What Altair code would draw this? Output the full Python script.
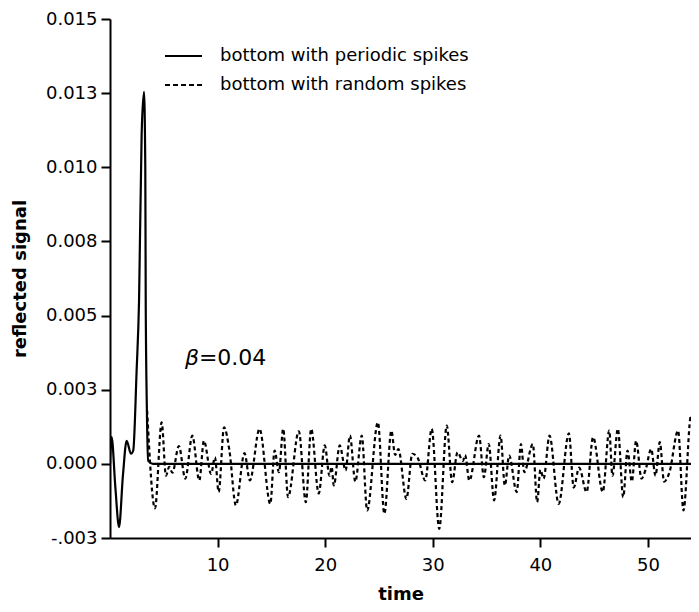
import altair as alt
import pandas as pd

# ---- data ----
periodic_t = [0, 0.15, 0.5, 0.84, 1.2, 1.55, 1.95, 2.16, 2.47, 2.7, 2.94, 3.16, 3.28, 3.32, 3.42, 3.55, 4.0, 55.0]
periodic_v = [0, 0.0009, -0.0008, -0.00213, -0.0004, 0.00078, 0.00034, 0.00045, 0.0031, 0.0055, 0.0111, 0.01254, 0.010, 0.0055, 0.002, 0.0001, 0.0, 0.0]

random_t = [3.45, 4.18, 4.8, 5.2, 5.5, 5.8, 6.4, 7.0, 7.65, 8.3, 8.73, 9.4, 9.75, 10.1, 10.6, 11.1, 11.7,
            12.5, 13.0, 13.9, 14.9, 15.3, 15.7, 16.1, 16.55, 17.55, 18.2, 18.7, 19.4, 19.96, 20.4, 20.6,
            20.8, 21.35, 21.9, 22.3, 22.8, 23.4, 23.9, 24.9, 25.5, 26.15, 26.5, 26.8, 27.55, 28.1, 28.6,
            29.3, 29.9, 30.6, 31.3, 31.8, 32.3, 32.8, 33.0, 33.4, 34.3, 34.75, 35.2, 35.7, 36.3, 36.7,
            37.1, 37.8, 38.2, 38.5, 39.3, 39.7, 40.0, 40.3, 40.85, 41.7, 42.65, 43.1, 43.6, 44.3, 44.9,
            45.8, 46.4, 46.7, 47.2, 47.7, 48.1, 48.5, 48.9, 49.4, 49.8, 50.3, 50.7, 51.1, 51.5, 52.0,
            52.8, 53.3, 54.0, 54.5, 54.9]
random_v = [0.0018, -0.0015, 0.0014, -0.0004, -0.0001, -0.0003, 0.0006, -0.0005, 0.00095, -0.00056,
            0.00078, -0.00034, 0.00022, -0.00095, 0.00123, 0.00045, -0.0014, 0.00036, -0.00056, 0.00118,
            -0.00135, 0.00045, -0.00028, 0.00118, -0.00112, 0.0011, -0.00129, 0.00118, -0.001, 0.00062,
            -0.0004, -0.0001, -0.00073, 0.00062, -0.00022, 0.00095, -0.0006, 0.00095, -0.00157, 0.0014,
            -0.00168, 0.00112, 0.0003, 0.0005, -0.00118, 0.00034, 0.0002, -0.00056, 0.00118, -0.00219,
            0.00129, -0.00062, 0.00039, 0.0001, 0.0003, -0.00056, 0.00095, -0.00045, 0.00067, -0.00123,
            0.00095, -0.00073, 0.00028, -0.00095, 0.00067, -0.00028, 0.00067, -0.00129, -0.0002, -0.0005,
            0.00095, -0.00135, 0.00103, -0.0008, -0.00013, -0.00095, 0.0009, -0.00095, 0.00112, -0.0004,
            0.00118, -0.00112, 0.00045, -0.0006, 0.00078, -0.0005, -0.00017, 0.0005, -0.0004, 0.00073,
            -0.0006, -0.00028, 0.00112, -0.00157, 0.00163, -0.00107, -0.0002]

ytick_values = [-0.0025, 0.0, 0.0025, 0.005, 0.0075, 0.01, 0.0125, 0.015]
ytick_labels = ["-.003", "0.000", "0.003", "0.005", "0.008", "0.010", "0.013", "0.015"]
xtick_values = [10, 20, 30, 40, 50]

legend_labels = ["bottom with periodic spikes", "bottom with random spikes"]
beta_t, beta_v = 6.96, 0.00358

FONT = "DejaVu Sans"

df_p = pd.DataFrame({"t": periodic_t, "v": periodic_v})
df_r = pd.DataFrame({"t": random_t, "v": random_v})

label_expr = "[" + ",".join(f"'{s}'" for s in ytick_labels) + "][round(datum.value / 0.0025) + 1]"

x_enc = alt.X("t:Q",
              scale=alt.Scale(domain=[0, 54], nice=False, zero=False),
              axis=alt.Axis(values=xtick_values, title="time", grid=False,
                            domainColor="black", domainWidth=2, tickColor="black",
                            tickWidth=2, tickSize=9, labelColor="black",
                            labelFont=FONT, labelFontSize=18, labelPadding=9,
                            titleFont=FONT, titleFontSize=18, titleFontWeight="bold",
                            titleColor="black", titleBaseline="alphabetic", titleY=61))
y_enc = alt.Y("v:Q",
              scale=alt.Scale(domain=[-0.0025, 0.015], nice=False, zero=False),
              axis=alt.Axis(values=ytick_values, labelExpr=label_expr,
                            title="reflected signal", grid=False,
                            domainColor="black", domainWidth=2, tickColor="black",
                            tickWidth=2, tickSize=9, labelColor="black",
                            labelFont=FONT, labelFontSize=18, labelPadding=4,
                            titleFont=FONT, titleFontSize=18, titleFontWeight="bold",
                            titleColor="black", titleAngle=270, titleBaseline="middle",
                            titleAlign="center", titleX=-90, titleY=259.5))

periodic = alt.Chart(df_p).mark_line(color="black", strokeWidth=2.2, interpolate="monotone",
                                     clip=True).encode(x=x_enc, y=y_enc)
random_ = alt.Chart(df_r).mark_line(color="black", strokeWidth=2.2, strokeDash=[4, 3],
                                    interpolate="monotone", clip=True).encode(x="t:Q", y="v:Q")

beta_df = pd.DataFrame({"t": [beta_t], "v": [beta_v]})
beta1 = alt.Chart(beta_df).mark_text(text="β", font=FONT, fontSize=22, fontStyle="italic",
                                     align="left", baseline="middle", color="black").encode(x="t:Q", y="v:Q")
beta2 = alt.Chart(beta_df).mark_text(text="=0.04", font=FONT, fontSize=22, align="left",
                                     baseline="middle", color="black", dx=14).encode(x="t:Q", y="v:Q")

legend_layers = []
for i, (lab, dash) in enumerate(zip(legend_labels, [[1, 0], [5, 3]])):
    ldf = pd.DataFrame({"label": [lab]})
    ypix = 37 + 29 * i
    legend_layers.append(
        alt.Chart(ldf).mark_rule(color="black", strokeWidth=2, strokeDash=dash).encode(
            x=alt.value(55), x2=alt.value(92), y=alt.value(ypix)))
    legend_layers.append(
        alt.Chart(ldf).mark_text(align="left", baseline="middle", font=FONT, fontSize=18,
                                 color="black").encode(
            x=alt.value(110), y=alt.value(ypix), text="label:N"))

chart = alt.layer(periodic, random_, beta1, beta2, *legend_layers).properties(
    width=581, height=519,
    autosize=alt.AutoSizeParams(type="none"),
    padding={"left": 102, "top": 11, "right": 0, "bottom": 66},
    background="white",
).configure_view(stroke=None)

chart.save("out.html", embed_options={"renderer": "svg", "actions": False})
